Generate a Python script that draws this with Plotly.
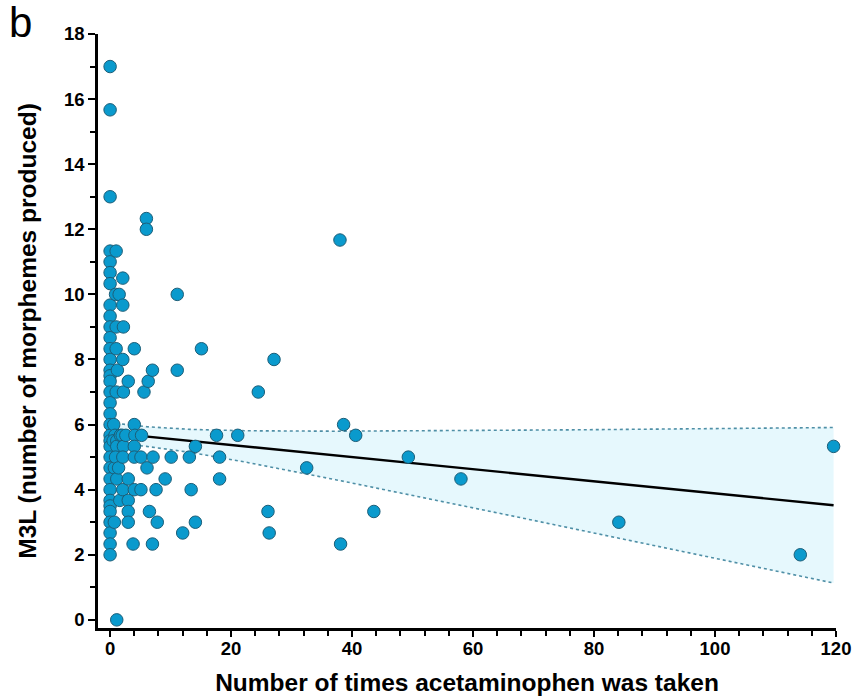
import numpy as np
import plotly.graph_objects as go

# ---- data ----
times_taken = [
    0, 0, 0, 0, 0, 0, 0, 0, 0, 0, 0, 0, 0, 0, 0, 0, 0, 0, 0, 0, 0, 0, 0, 0, 0, 0, 0, 0, 0, 0, 0, 0, 0, 0,
    0.6, 0.7, 0.7, 0.8, 0.5,
    1, 0.9, 1, 1, 1.2, 1, 1.1, 1.1, 0.9, 1.1, 1.1,
    1.5, 1.4, 1.7, 1.6,
    2.1, 2.1, 2.2, 2.1, 2.2, 2.0, 2.2, 2.1, 2.1,
    2.6,
    3.0, 3.0, 3.0, 3.0, 3.0,
    4.0, 4.0, 4.1, 4.0, 4.0, 4.0, 3.8,
    5.2, 5.1, 5.1, 5.6,
    6.0, 6.0, 6.3, 6.1, 6.5,
    7.0, 7.1, 7.0, 7.6, 7.8,
    9.1, 10.1, 11.1, 11.1, 12.0, 13.1, 13.4, 14.1, 14.1, 15.1,
    17.6, 18.1, 18.1, 21.1, 24.5, 26.1, 26.3, 27.1, 32.5,
    38.0, 38.6, 40.6, 38.1, 43.6, 49.3, 58.0, 84.1, 114.1, 119.6,
]
m3l = [
    17, 15.67, 13, 11.33, 11, 10.67, 10.33, 9.67, 9.33, 9, 8.67, 8.33, 8, 7.67, 7.5, 7.33, 7, 6.67,
    6.33, 6, 5.67, 5.5, 5.33, 5, 4.67, 4.33, 4, 3.67, 3.5, 3.33, 3, 2.67, 2.33, 2,
    6.0, 4.67, 3.0, 5.67, 5.5,
    11.33, 10.0, 9.0, 8.33, 7.67, 7.0, 5.5, 5.33, 5.0, 4.33, 0,
    10.0, 4.67, 5.67, 3.67,
    10.5, 9.67, 9.0, 8.0, 7.0, 5.67, 5.33, 5.0, 4.0,
    5.67,
    7.33, 4.33, 3.67, 3.33, 3.0,
    8.33, 6.0, 5.67, 5.33, 5.0, 4.0, 2.33,
    5.67, 5.0, 4.0, 7.0,
    12.33, 12.0, 7.33, 4.67, 3.33,
    7.67, 5.0, 2.33, 4.0, 3.0,
    4.33, 5.0, 10.0, 7.67, 2.67, 5.0, 4.0, 5.33, 3.0, 8.33,
    5.67, 5.0, 4.33, 5.67, 7.0, 3.33, 2.67, 8.0, 4.67,
    11.67, 6.0, 5.67, 2.33, 3.33, 5.0, 4.33, 3.0, 2.0, 5.33,
]
x_tick_vals = [0, 20, 40, 60, 80, 100, 120]
y_tick_vals = [0, 2, 4, 6, 8, 10, 12, 14, 16, 18]
x_title = "Number of times acetaminophen was taken"
y_title = "M3L (number of morphemes produced)"
panel_label = "b"

# regression line and 95% confidence band parameters
fit_intercept = 5.745
fit_slope = -0.0186
ci_half_min = 0.30      # narrowest half-width of the band
ci_center_x = 4.0       # where the band is narrowest (mean of x)
ci_growth = 0.0205      # growth of half-width per unit away from the mean

x = np.array(times_taken, dtype=float)
y = np.array(m3l, dtype=float)
xf = np.linspace(x.min(), x.max(), 200)
yf = fit_intercept + fit_slope * xf
half = np.sqrt(ci_half_min ** 2 + (ci_growth * (xf - ci_center_x)) ** 2)
upper = yf + half
lower = yf - half

band_color = "#E6F8FD"
dot_color = "#4F8FA6"

fig = go.Figure()
fig.add_trace(go.Scatter(
    x=np.concatenate([xf, xf[::-1]]), y=np.concatenate([upper, lower[::-1]]),
    fill="toself", fillcolor=band_color, line=dict(width=0), hoverinfo="skip", showlegend=False))
fig.add_trace(go.Scatter(x=xf, y=upper, mode="lines",
                         line=dict(color=dot_color, width=1.6, dash="dot"), showlegend=False))
fig.add_trace(go.Scatter(x=xf, y=lower, mode="lines",
                         line=dict(color=dot_color, width=1.6, dash="dot"), showlegend=False))
fig.add_trace(go.Scatter(x=xf, y=yf, mode="lines",
                         line=dict(color="black", width=2.4), showlegend=False))
fig.add_trace(go.Scatter(
    x=x, y=y, mode="markers", cliponaxis=False,
    marker=dict(size=12.5, color="#0A9ACD", line=dict(color="#1C5E78", width=1)),
    showlegend=False))

FAM = "Liberation Sans, Arial, sans-serif"
axis_font = dict(family=FAM, size=18.5, color="black", weight="bold")
title_font = dict(family=FAM, size=24.5, color="black", weight="bold")

fig.update_layout(
    width=855, height=698,
    margin=dict(l=98, r=19, t=34, b=70),
    paper_bgcolor="white", plot_bgcolor="white",
    font=dict(family=FAM),
    xaxis=dict(
        range=[-2, 120], tickvals=x_tick_vals, ticktext=[f"<b>{v}</b>" for v in x_tick_vals],
        ticks="outside", ticklen=6, tickwidth=2, automargin=False, ticklabelstandoff=-4,
        tickcolor="black", showline=True, linecolor="black", linewidth=2.5,
        showgrid=False, zeroline=False, tickfont=axis_font,
        title=dict(text=f"<b>{x_title}</b>", font=title_font, standoff=16),
        minor=dict(dtick=4, tick0=0, ticks="outside", ticklen=5, tickwidth=2, tickcolor="black", showgrid=False),
    ),
    yaxis=dict(
        range=[-0.25, 18], tickvals=y_tick_vals, ticktext=[f"<b>{v}</b>" for v in y_tick_vals],
        ticks="outside", ticklen=7, tickwidth=2, automargin=False,
        tickcolor="black", showline=True, linecolor="black", linewidth=2.5,
        showgrid=False, zeroline=False, tickfont=axis_font,
        title=dict(text=f"<b>{y_title}</b>", font=title_font, standoff=21),
        minor=dict(dtick=1, tick0=0, ticks="outside", ticklen=5, tickwidth=2, tickcolor="black", showgrid=False),
    ),
    annotations=[dict(
        text=panel_label, xref="paper", yref="paper", x=-0.123, y=1.063,
        xanchor="left", yanchor="top", showarrow=False,
        font=dict(family=FAM, size=42, color="black"))],
)

fig.write_html("out.html")
